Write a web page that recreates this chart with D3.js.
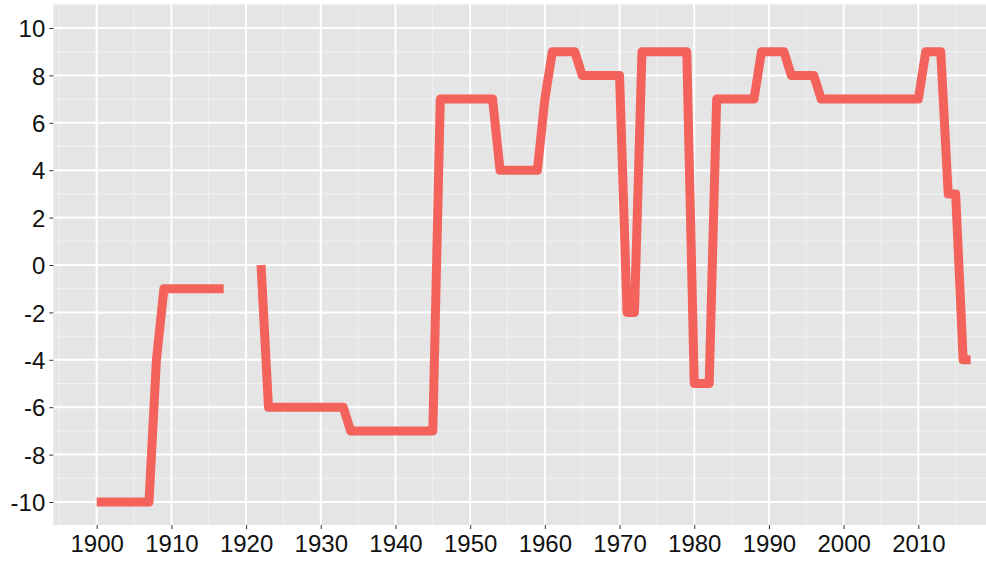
<!DOCTYPE html>
<html>
<head>
<meta charset="utf-8">
<script src="https://cdn.jsdelivr.net/npm/d3@7/dist/d3.min.js"></script>
<style>
  html, body { margin: 0; padding: 0; background: #ffffff; }
  svg { display: block; }
  text { font-family: "Liberation Sans", Arial, Helvetica, sans-serif; }
</style>
</head>
<body>
<svg id="chart" width="986" height="561"></svg>
<script>
// ---- Data ----
const startYear = 1900;
const values = [
  -10, -10, -10, -10, -10, -10, -10, -10,        // 1900-1907
  -4,                                            // 1908
  -1, -1, -1, -1, -1, -1, -1, -1, -1,            // 1909-1917
  null, null, null, null,                        // 1918-1921
  0,                                             // 1922
  -6, -6, -6, -6, -6, -6, -6, -6, -6, -6, -6,    // 1923-1933
  -7, -7, -7, -7, -7, -7, -7, -7, -7, -7, -7, -7,// 1934-1945
  7, 7, 7, 7, 7, 7, 7, 7,                        // 1946-1953
  4, 4, 4, 4, 4, 4,                              // 1954-1959
  7,                                             // 1960
  9, 9, 9, 9,                                    // 1961-1964
  8, 8, 8, 8, 8, 8,                              // 1965-1970
  -2, -2,                                        // 1971-1972
  9, 9, 9, 9, 9, 9, 9,                           // 1973-1979
  -5, -5, -5,                                    // 1980-1982
  7, 7, 7, 7, 7, 7,                              // 1983-1988
  9, 9, 9, 9,                                    // 1989-1992
  8, 8, 8, 8,                                    // 1993-1996
  7, 7, 7, 7, 7, 7, 7, 7, 7, 7, 7, 7, 7, 7,      // 1997-2010
  9, 9, 9,                                       // 2011-2013
  3, 3,                                          // 2014-2015
  -4, -4                                         // 2016-2017
];
const years = values.map((v, i) => startYear + i);
const xTickLabels = [1900, 1910, 1920, 1930, 1940, 1950, 1960, 1970, 1980, 1990, 2000, 2010];
const xMinorTicks = [1895, 1905, 1915, 1925, 1935, 1945, 1955, 1965, 1975, 1985, 1995, 2005, 2015];
const yTickLabels = [-10, -8, -6, -4, -2, 0, 2, 4, 6, 8, 10];
const yMinorTicks = [-9, -7, -5, -3, -1, 1, 3, 5, 7, 9, 11];

const data = years.map((y, i) => ({ year: y, value: values[i] }));

// ---- Layout ----
const panel = { left: 53.3, top: 4.3, right: 986, bottom: 525 };
const svg = d3.select("#chart");

const x = d3.scaleLinear().domain([1894.19, 2019.06]).range([panel.left, panel.right]);
const y = d3.scaleLinear().domain([-10.97, 11]).range([panel.bottom, panel.top]);

// panel background
svg.append("rect")
  .attr("x", panel.left).attr("y", panel.top)
  .attr("width", panel.right - panel.left)
  .attr("height", panel.bottom - panel.top)
  .attr("fill", "#E5E5E5");

const grid = svg.append("g");
// minor grid
grid.selectAll(".vminor").data(xMinorTicks).enter().append("line")
  .attr("x1", d => x(d)).attr("x2", d => x(d))
  .attr("y1", panel.top).attr("y2", panel.bottom)
  .attr("stroke", "#F2F2F2").attr("stroke-width", 1);
grid.selectAll(".hminor").data(yMinorTicks).enter().append("line")
  .attr("x1", panel.left).attr("x2", panel.right)
  .attr("y1", d => y(d)).attr("y2", d => y(d))
  .attr("stroke", "#F2F2F2").attr("stroke-width", 1);
// major grid
grid.selectAll(".vmajor").data(xTickLabels).enter().append("line")
  .attr("x1", d => x(d)).attr("x2", d => x(d))
  .attr("y1", panel.top).attr("y2", panel.bottom)
  .attr("stroke", "#FFFFFF").attr("stroke-width", 2);
grid.selectAll(".hmajor").data(yTickLabels).enter().append("line")
  .attr("x1", panel.left).attr("x2", panel.right)
  .attr("y1", d => y(d)).attr("y2", d => y(d))
  .attr("stroke", "#FFFFFF").attr("stroke-width", 2);

// line
const line = d3.line()
  .defined(d => d.value !== null)
  .x(d => x(d.year))
  .y(d => y(d.value));

svg.append("path")
  .datum(data)
  .attr("d", line)
  .attr("fill", "none")
  .attr("stroke", "#F4625C")
  .attr("stroke-width", 9)
  .attr("stroke-linejoin", "round")
  .attr("stroke-linecap", "butt");

// axes
const xAxis = d3.axisBottom(x).tickValues(xTickLabels).tickSize(4).tickPadding(6).tickFormat(d3.format("d"));
const yAxis = d3.axisLeft(y).tickValues(yTickLabels).tickSize(4).tickPadding(4).tickFormat(d => String(d));

const gx = svg.append("g").attr("transform", `translate(0,${panel.bottom})`).call(xAxis);
const gy = svg.append("g").attr("transform", `translate(${panel.left},0)`).call(yAxis);

[gx, gy].forEach(g => {
  g.select(".domain").remove();
  g.selectAll(".tick line").attr("stroke", "#333333").attr("stroke-width", 1);
  g.selectAll(".tick text")
    .attr("fill", "#111111")
    .style("font-size", "24px")
    .style("font-family", "'Liberation Sans', Arial, Helvetica, sans-serif");
});
gy.selectAll(".tick text").attr("dy", "0.36em");
</script>
</body>
</html>
